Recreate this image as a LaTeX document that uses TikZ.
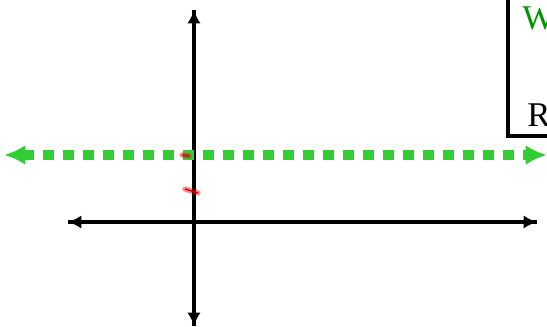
\documentclass[tikz,border=0pt]{standalone}
\usepackage{fontspec}
\setmainfont{Liberation Serif}
\usepackage{xcolor}
\usetikzlibrary{arrows.meta,calc}

\definecolor{linegreen}{RGB}{50,205,50}
\definecolor{textgreen}{RGB}{0,150,0}

\begin{document}
\begin{tikzpicture}[x=0.75pt, y=-0.75pt,
		axis/.style={line width=2.8pt, -{Latex[length=10pt,width=10pt]}},
		level/.style={linegreen, line width=6.8pt, dash pattern=on 8pt off 7pt,
			{Latex[length=16pt,width=15pt]}-{Latex[length=16pt,width=15pt]}},
		penmark/.style={red, line width=4pt, line cap=round, opacity=0.45},
		boxlabel/.style={anchor=base west, inner sep=0pt, font=\fontsize{26}{30}\selectfont}]

			% frame of the picture
			\useasboundingbox (0,0) rectangle (547,327);
			\clip (0,0) rectangle (547,327);

			% end points of the axes
			\coordinate (top) at (194,10);
			\coordinate (bottom) at (194,326);
			\coordinate (left) at (68,222);
			\coordinate (right) at (537,222);

			% Axes
			\draw[axis] (bottom) -- (top);
			\draw[axis] (top) -- (bottom);
			\draw[axis] (right) -- (left);
			\draw[axis] (left) -- (right);

			% dotted level line
			\coordinate (gl) at (4,155);
			\coordinate (gr) at (547,155);
			\draw[level] (gl) -- (gr);

			% label box, cut by the frame
			\draw[line width=3.2pt] (508,-10) rectangle (580,136);
			\node[boxlabel, text=textgreen] (w) at (522,30) {W};
			\node[boxlabel] (r) at (527,127) {R};

			% red pen marks
			\coordinate (m1a) at (182,155);
			\coordinate (m1b) at (189,156);
			\coordinate (m2a) at (185,189);
			\coordinate (m2b) at (198,193);
			\draw[penmark] (m1a) -- (m1b);
			\draw[penmark] (m2a) -- (m2b);
			\draw[red!80!black, line width=1pt] (m1a) -- (m1b);
			\draw[red!80!black, line width=1pt] (m2a) -- (m2b);

\end{tikzpicture}
\end{document}
